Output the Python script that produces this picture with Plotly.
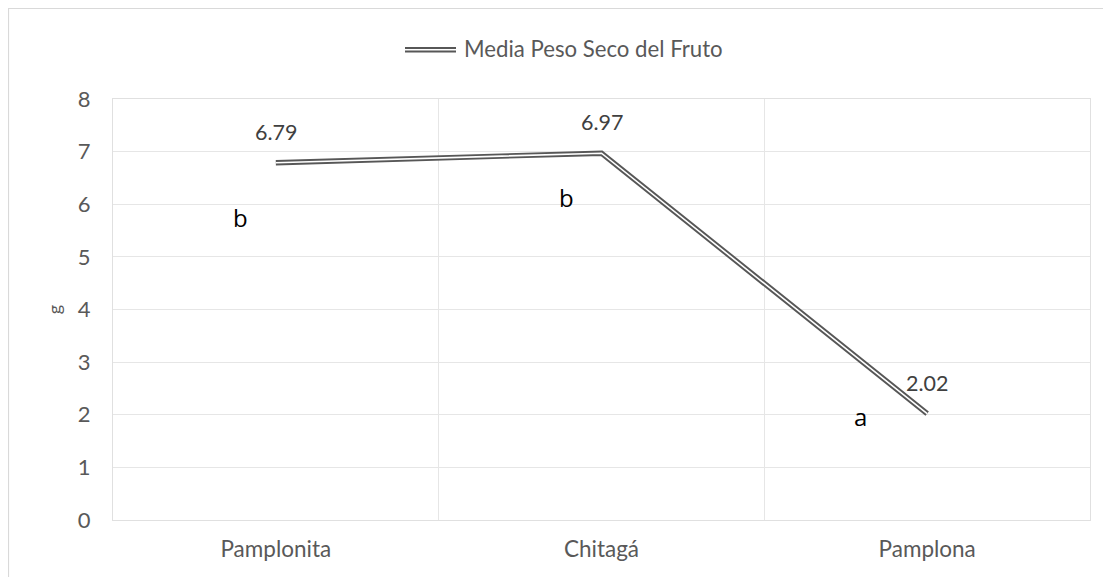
import plotly.graph_objects as go

categories = ["Pamplonita", "Chitagá", "Pamplona"]
values = [6.79, 6.97, 2.02]
value_labels = ["6.79", "6.97", "2.02"]
letters = ["b", "b", "a"]
series_name = "Media Peso Seco del Fruto"
y_ticks = [0, 1, 2, 3, 4, 5, 6, 7, 8]

# page is rendered with an 8px body margin; work in page pixel coords
OFF = 8
W, H = 1111, 577
L, R, T, B = 105, 29, 91, 65
PW, PH = W - L - R, H - T - B

def px(x):
    return (x - OFF - L) / PW

def py(y):
    return (H - B - (y - OFF)) / PH

LINE = "#575757"
FONT = "Lato, Open Sans, sans-serif"

fig = go.Figure()
fig.add_trace(go.Scatter(
    x=categories, y=values, mode="lines",
    line=dict(color=LINE, width=5.4), showlegend=False, hoverinfo="skip",
))
fig.add_trace(go.Scatter(
    x=categories, y=values, mode="lines",
    line=dict(color="white", width=1.6), showlegend=False,
))

annotations = []
for cat, v, lab in zip(categories, values, value_labels):
    annotations.append(dict(
        x=cat, y=v, xref="x", yref="y", text=lab, showarrow=False,
        yshift=31, font=dict(family=FONT, size=21.5, color="#404040"),
    ))

letter_offsets = [(-35, 5.74), (-35, 6.12), (-67, 1.96)]
for cat, letter, (dx, yy) in zip(categories, letters, letter_offsets):
    annotations.append(dict(
        x=cat, y=yy, xref="x", yref="y", text=letter, showarrow=False,
        xshift=dx, font=dict(family="Open Sans, sans-serif", size=24, color="#000000"),
    ))

annotations.append(dict(
    x=px(462), y=py(48), xref="paper", yref="paper", xanchor="left", yanchor="middle",
    text=series_name, showarrow=False,
    font=dict(family=FONT, size=22.2, color="#595959"),
))

shapes = [
    dict(type="rect", xref="paper", yref="paper",
         x0=px(8.5), x1=px(1140), y0=py(620), y1=py(8.5),
         line=dict(color="#d9d9d9", width=1.2), fillcolor="rgba(0,0,0,0)", layer="below"),
    dict(type="line", xref="paper", yref="paper",
         x0=px(405), x1=px(456), y0=py(49.7), y1=py(49.7),
         line=dict(color=LINE, width=5.4)),
    dict(type="line", xref="paper", yref="paper",
         x0=px(405), x1=px(456), y0=py(49.7), y1=py(49.7),
         line=dict(color="white", width=1.6)),
]

fig.update_layout(
    width=W, height=H,
    margin=dict(l=L, r=R, t=T, b=B),
    paper_bgcolor="white", plot_bgcolor="white",
    showlegend=False,
    annotations=annotations, shapes=shapes,
    font=dict(family=FONT, color="#595959"),
)
fig.update_xaxes(
    type="category", tickson="boundaries", ticks="",
    showgrid=True, gridcolor="#e6e6e6", gridwidth=1,
    showline=True, linecolor="#e0e0e0", linewidth=1, mirror=True,
    tickfont=dict(family=FONT, size=22.5, color="#595959"),
    ticklabelstandoff=9, range=[-0.5, 2.5], zeroline=False,
)
fig.update_yaxes(
    range=[0, 8], tickvals=y_ticks, ticks="",
    showgrid=True, gridcolor="#e6e6e6", gridwidth=1,
    showline=True, linecolor="#e0e0e0", linewidth=1, mirror=True,
    zeroline=False,
    tickfont=dict(family=FONT, size=22, color="#595959"),
    ticklabelstandoff=17,
    title=dict(text="g", font=dict(family=FONT, size=18, color="#595959"), standoff=11),
)

fig.write_html("out.html")
